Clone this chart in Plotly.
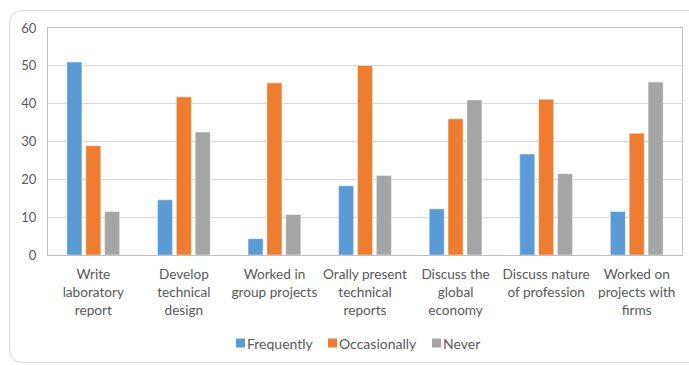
import plotly.graph_objects as go

categories = ["Write<br>laboratory<br>report", "Develop<br>technical<br>design", "Worked in<br>group projects",
              "Orally present<br>technical<br>reports", "Discuss the<br>global<br>economy",
              "Discuss nature<br>of profession", "Worked on<br>projects with<br>firms"]
series_names = ["Frequently", "Occasionally", "Never"]
frequently = [51.0, 14.6, 4.3, 18.3, 12.2, 26.7, 11.5]
occasionally = [28.9, 41.8, 45.5, 50.1, 36.0, 41.2, 32.2]
never = [11.5, 32.5, 10.7, 21.0, 41.0, 21.5, 45.7]
colors = ["#5B9BD5", "#ED7D31", "#A5A5A5"]

W, H = 689, 365
L, R, T, B = 48, 7, 28, 110
pw, ph = W - L - R, H - T - B
FONT = "Lato, sans-serif"

fig = go.Figure()
for name, vals, col in zip(series_names, [frequently, occasionally, never], colors):
    fig.add_trace(go.Bar(x=categories, y=vals, name=name, marker_color=col,
                         marker_line=dict(width=0.8, color="rgba(255,255,255,0.6)"),
                         showlegend=False))

def px(x):
    return (x - L) / pw

def py(y):
    return (H - B - y) / ph

x0, x1, y0, y1, r = 9.5, 700, 10.5, 362.5, 14
path = (f"M {px(x0+r)} {py(y0)} L {px(x1)} {py(y0)} L {px(x1)} {py(y1)} "
        f"L {px(x0+r)} {py(y1)} Q {px(x0)} {py(y1)} {px(x0)} {py(y1-r)} "
        f"L {px(x0)} {py(y0+r)} Q {px(x0)} {py(y0)} {px(x0+r)} {py(y0)}")

legend_x = [236, 328, 432]
shapes = [dict(type="path", xref="paper", yref="paper", path=path,
               line=dict(color="#d9d9d9", width=1), layer="below")]
annotations = []
for n, c, lx in zip(series_names, colors, legend_x):
    shapes.append(dict(type="rect", xref="paper", yref="paper",
                       x0=px(lx), x1=px(lx + 9), y0=py(347.5), y1=py(338.5),
                       fillcolor=c, line=dict(width=0)))
    annotations.append(dict(xref="paper", yref="paper", x=px(lx + 8.5), y=py(343.5),
                            xanchor="left", yanchor="middle", text=n, showarrow=False,
                            font=dict(family=FONT, size=14, color="#595959")))

fig.update_layout(
    width=W, height=H,
    margin=dict(l=L, r=R, t=T, b=B),
    paper_bgcolor="white", plot_bgcolor="white",
    font=dict(family=FONT, size=13, color="#595959"),
    barmode="group", bargap=0.375, bargroupgap=0.2,
    annotations=annotations,
    shapes=shapes,
    xaxis=dict(showline=True, mirror=True, linecolor="#bfbfbf", linewidth=1,
               ticks="outside", ticklen=7, tickcolor="rgba(0,0,0,0)",
               tickfont=dict(family=FONT, size=13.6, color="#595959")),
    yaxis=dict(range=[0, 60], dtick=10, showline=True, mirror=True, linecolor="#bfbfbf",
               gridcolor="#d9d9d9", zeroline=False, ticks="outside", ticklen=8,
               tickcolor="rgba(0,0,0,0)", tickfont=dict(family=FONT, size=13, color="#595959")),
)

fig.write_html("out.html")
